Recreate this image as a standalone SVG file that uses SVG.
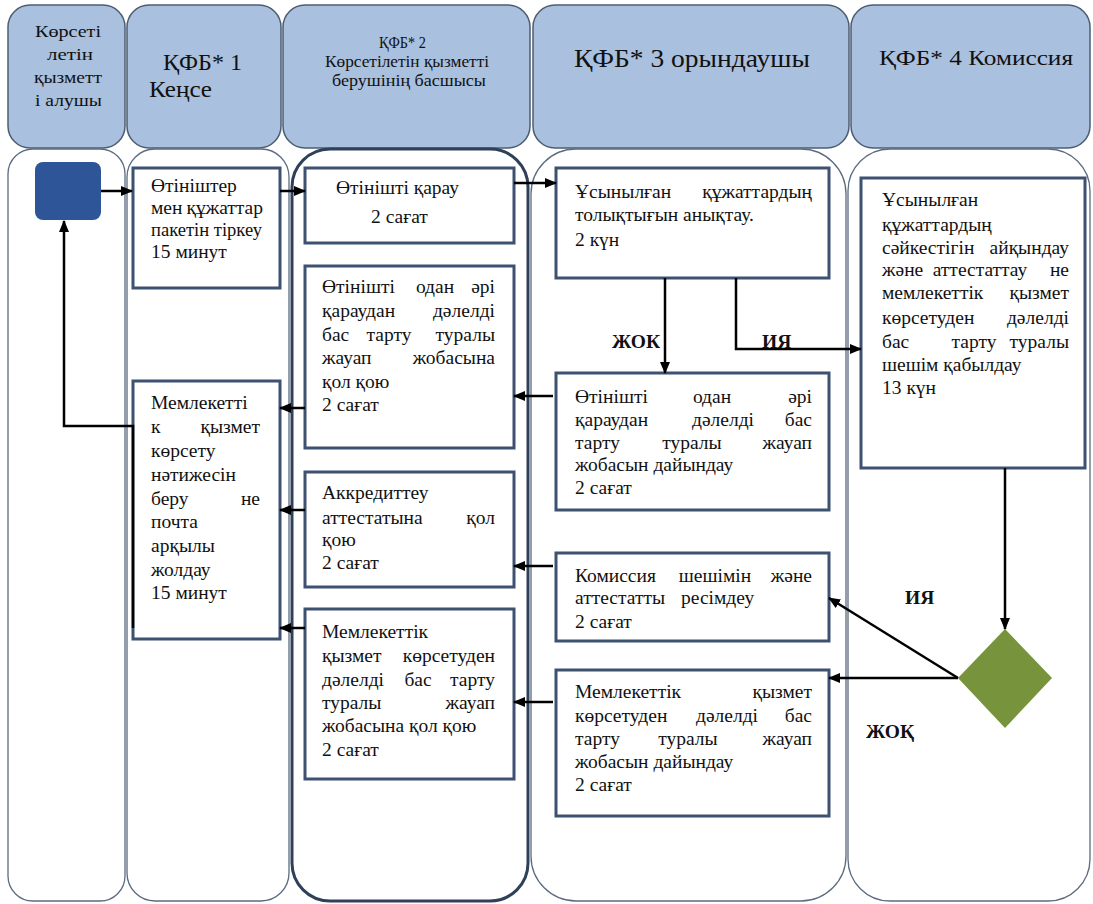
<svg xmlns="http://www.w3.org/2000/svg" width="1093" height="904" viewBox="0 0 1093 904" font-family="'Liberation Serif', 'DejaVu Serif', serif">
<defs>
<style>
.t{font-family:'Liberation Serif','DejaVu Serif',serif;font-size:19.5px;fill:#111}
.e{text-anchor:end}
.m{text-anchor:middle}
.b{font-weight:bold}
.hdr{fill:#a9c0de;stroke:#4d5d72;stroke-width:1.5}
.lane{fill:#fff;stroke:#5b6b80;stroke-width:1.3}
.lane3{fill:#fff;stroke:#2f4059;stroke-width:3}
.box{fill:#fff;stroke:#3d5170;stroke-width:3}
.c{fill:none;stroke:#000;stroke-width:2.5;marker-end:url(#ah)}
</style>
<marker id="ah" markerWidth="12" markerHeight="12" refX="11" refY="6" orient="auto" markerUnits="userSpaceOnUse"><path d="M0,1 L12,6 L0,11 z" fill="#000"/></marker>
</defs>

<g id="headers">
<rect class="hdr" x="8" y="5" width="117" height="143" rx="22"/>
<rect class="hdr" x="127" y="5" width="154" height="143" rx="22"/>
<rect class="hdr" x="283" y="5" width="247" height="143" rx="22"/>
<rect class="hdr" x="533" y="5" width="316" height="143" rx="22"/>
<rect class="hdr" x="851" y="5" width="239" height="143" rx="22"/>
<text class="t" x="35" y="37" style="font-size:17px" textLength="66" lengthAdjust="spacingAndGlyphs">Көрсеті</text>
<text class="t" x="47" y="60" style="font-size:17px" textLength="46" lengthAdjust="spacingAndGlyphs">летін</text>
<text class="t" x="34" y="83" style="font-size:17px" textLength="68" lengthAdjust="spacingAndGlyphs">қызметт</text>
<text class="t" x="35" y="106" style="font-size:17px" textLength="67" lengthAdjust="spacingAndGlyphs">і алушы</text>
<text class="t" x="163" y="70" style="font-size:24px" textLength="79" lengthAdjust="spacingAndGlyphs">ҚФБ* 1</text>
<text class="t" x="149" y="97" style="font-size:24px" textLength="63" lengthAdjust="spacingAndGlyphs">Кеңсе</text>
<text class="t" x="379" y="48" style="font-size:16px" textLength="47" lengthAdjust="spacingAndGlyphs">ҚФБ* 2</text>
<text class="t" x="325" y="67" style="font-size:16px" textLength="164" lengthAdjust="spacingAndGlyphs">Көрсетілетін қызметті</text>
<text class="t" x="332" y="86" style="font-size:16px" textLength="154" lengthAdjust="spacingAndGlyphs">берушінің басшысы</text>
<text class="t" x="574" y="67" style="font-size:26px" textLength="236" lengthAdjust="spacingAndGlyphs">ҚФБ* 3 орындаушы</text>
<text class="t" x="879" y="65" style="font-size:22px" textLength="194" lengthAdjust="spacingAndGlyphs">ҚФБ* 4 Комиссия</text>
</g>

<g id="lanes">
<rect class="lane" x="8" y="149" width="117" height="752" rx="25"/>
<rect class="lane" x="127" y="149" width="162" height="752" rx="28"/>
<rect class="lane3" x="292" y="149" width="236" height="752" rx="38"/>
<rect class="lane" x="531" y="149" width="315" height="752" rx="45"/>
<rect class="lane" x="848" y="149" width="242" height="752" rx="42"/>
</g>

<g id="start"><rect x="35" y="162" width="66" height="58" rx="8" fill="#2e5597"/></g>

<g id="n1">
<rect class="box" x="133" y="168" width="147" height="120"/>
<text class="t" x="151" y="192">Өтініштер</text>
<text class="t" x="151" y="214">мен</text><text class="t e" x="263" y="214">құжаттар</text>
<text class="t" x="151" y="236" textLength="111" lengthAdjust="spacingAndGlyphs">пакетін тіркеу</text>
<text class="t" x="151" y="258">15 минут</text>
</g>

<g id="n2">
<rect class="box" x="305" y="168" width="209" height="75"/>
<text class="t" x="336" y="194">Өтінішті қарау</text>
<text class="t" x="371" y="223">2 сағат</text>
</g>

<g id="n3">
<rect class="box" x="305" y="266" width="209" height="182"/>
<text class="t" x="322" y="293">Өтінішті</text><text class="t m" x="435" y="293">одан</text><text class="t e" x="495" y="293">әрі</text>
<text class="t" x="322" y="317">қараудан</text><text class="t e" x="495" y="317">дәлелді</text>
<text class="t" x="322" y="341">бас</text><text class="t m" x="389" y="341">тарту</text><text class="t e" x="495" y="341">туралы</text>
<text class="t" x="322" y="364">жауап</text><text class="t e" x="495" y="364">жобасына</text>
<text class="t" x="322" y="388">қол қою</text>
<text class="t" x="322" y="411">2 сағат</text>
</g>

<g id="n4">
<rect class="box" x="133" y="381" width="147" height="258"/>
<text class="t" x="151" y="409">Мемлекетті</text>
<text class="t" x="151" y="433">к</text><text class="t e" x="260" y="433">қызмет</text>
<text class="t" x="151" y="457">көрсету</text>
<text class="t" x="151" y="481">нәтижесін</text>
<text class="t" x="151" y="505">беру</text><text class="t e" x="260" y="505">не</text>
<text class="t" x="151" y="528">почта</text>
<text class="t" x="151" y="552">арқылы</text>
<text class="t" x="151" y="576">жолдау</text>
<text class="t" x="151" y="599">15 минут</text>
</g>

<g id="n5">
<rect class="box" x="305" y="472" width="209" height="115"/>
<text class="t" x="322" y="499">Аккредиттеу</text>
<text class="t" x="322" y="524">аттестатына</text><text class="t e" x="495" y="524">қол</text>
<text class="t" x="322" y="546">қою</text>
<text class="t" x="322" y="569">2 сағат</text>
</g>

<g id="n6">
<rect class="box" x="305" y="609" width="209" height="170"/>
<text class="t" x="322" y="638">Мемлекеттік</text>
<text class="t" x="322" y="662">қызмет</text><text class="t e" x="495" y="662">көрсетуден</text>
<text class="t" x="322" y="686">дәлелді</text><text class="t m" x="418" y="686">бас</text><text class="t e" x="495" y="686">тарту</text>
<text class="t" x="322" y="709">туралы</text><text class="t e" x="495" y="709">жауап</text>
<text class="t" x="322" y="732">жобасына қол қою</text>
<text class="t" x="322" y="756">2 сағат</text>
</g>

<g id="n7">
<rect class="box" x="556" y="168" width="273" height="110"/>
<text class="t" x="575" y="198">Ұсынылған</text><text class="t e" x="812" y="198">құжаттардың</text>
<text class="t" x="575" y="221">толықтығын анықтау.</text>
<text class="t" x="575" y="246">2 күн</text>
</g>

<g id="n8">
<rect class="box" x="861" y="178" width="224" height="290"/>
<text class="t" x="882" y="206">Ұсынылған</text>
<text class="t" x="882" y="231">құжаттардың</text>
<text class="t" x="882" y="254">сәйкестігін</text><text class="t e" x="1069" y="254">айқындау</text>
<text class="t" x="882" y="276">және</text><text class="t m" x="980" y="276">аттестаттау</text><text class="t e" x="1069" y="276">не</text>
<text class="t" x="882" y="299">мемлекеттік</text><text class="t e" x="1069" y="299">қызмет</text>
<text class="t" x="882" y="324">көрсетуден</text><text class="t e" x="1069" y="324">дәлелді</text>
<text class="t" x="882" y="348">бас</text><text class="t m" x="974" y="348">тарту</text><text class="t e" x="1069" y="348">туралы</text>
<text class="t" x="882" y="371">шешім қабылдау</text>
<text class="t" x="882" y="394">13 күн</text>
</g>

<g id="n9">
<rect class="box" x="556" y="373" width="273" height="137"/>
<text class="t" x="575" y="403">Өтінішті</text><text class="t m" x="712" y="403">одан</text><text class="t e" x="812" y="403">әрі</text>
<text class="t" x="575" y="426">қараудан</text><text class="t m" x="723" y="426">дәлелді</text><text class="t e" x="812" y="426">бас</text>
<text class="t" x="575" y="449">тарту</text><text class="t m" x="692" y="449">туралы</text><text class="t e" x="812" y="449">жауап</text>
<text class="t" x="575" y="471">жобасын дайындау</text>
<text class="t" x="575" y="494">2 сағат</text>
</g>

<g id="n10">
<rect class="box" x="556" y="553" width="273" height="88"/>
<text class="t" x="575" y="582">Комиссия</text><text class="t m" x="715" y="582">шешімін</text><text class="t e" x="812" y="582">және</text>
<text class="t" x="575" y="604">аттестатты</text><text class="t" x="681" y="604">ресімдеу</text>
<text class="t" x="575" y="628">2 сағат</text>
</g>

<g id="n11">
<rect class="box" x="556" y="670" width="273" height="146"/>
<text class="t" x="575" y="698">Мемлекеттік</text><text class="t e" x="812" y="698">қызмет</text>
<text class="t" x="575" y="722">көрсетуден</text><text class="t m" x="727" y="722">дәлелді</text><text class="t e" x="812" y="722">бас</text>
<text class="t" x="575" y="745">тарту</text><text class="t m" x="688" y="745">туралы</text><text class="t e" x="812" y="745">жауап</text>
<text class="t" x="575" y="768">жобасын дайындау</text>
<text class="t" x="575" y="791">2 сағат</text>
</g>

<g id="decision"><polygon points="1005,629 1052,678 1005,728 958,678" fill="#77933c"/></g>

<g id="connectors">
<path class="c" d="M101,191 H132"/>
<path class="c" d="M280,191 H305"/>
<path class="c" d="M514,183 H556"/>
<path class="c" d="M665,278 V373"/>
<path class="c" d="M736,278 V349 H861"/>
<path class="c" d="M553,396 H514"/>
<path class="c" d="M305,408 H280"/>
<path class="c" d="M305,510 H280"/>
<path class="c" d="M305,628 H280"/>
<path class="c" d="M553,566 H514"/>
<path class="c" d="M553,702 H514"/>
<path class="c" d="M1005,468 V629"/>
<path class="c" d="M958,678 L829,598"/>
<path class="c" d="M958,678 H829"/>
<path class="c" d="M133,628 V426 H64 V221"/>
<text class="t b" x="612" y="348">ЖОК</text>
<text class="t b" x="762" y="348">ИЯ</text>
<text class="t b" x="905" y="604">ИЯ</text>
<text class="t b" x="866" y="738">ЖОҚ</text>
</g>
</svg>
